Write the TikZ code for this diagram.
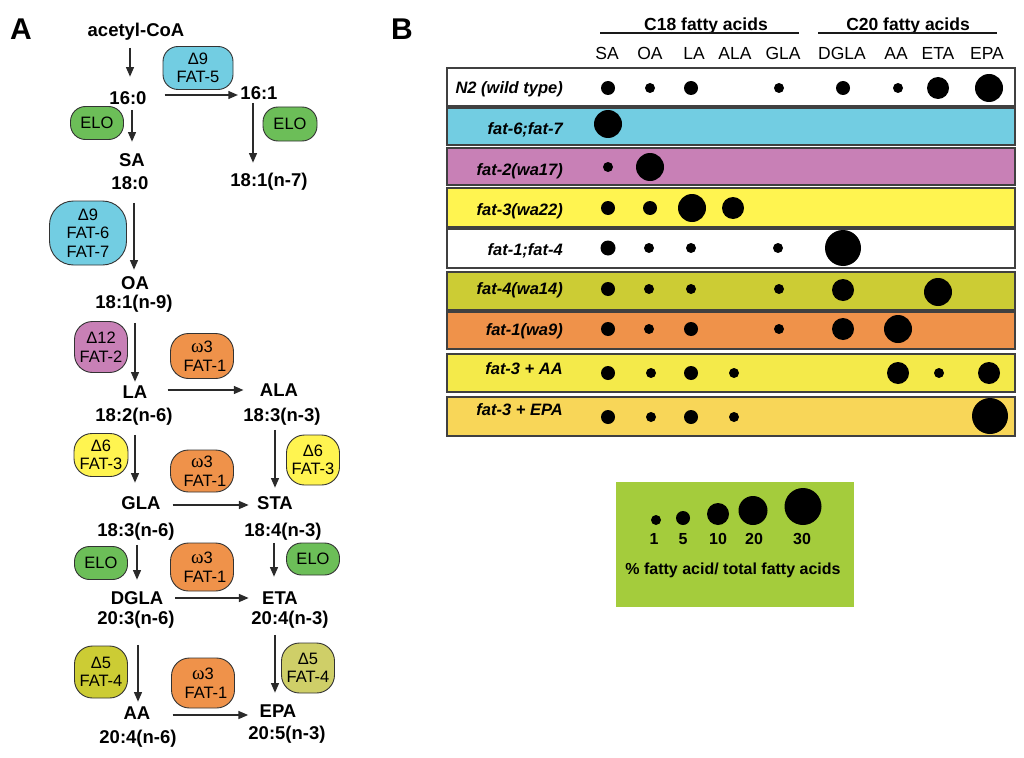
\documentclass[tikz,border=0pt]{standalone}
\usepackage{fontspec}
\setmainfont{Liberation Sans}
\newfontfamily\serifgr{Liberation Serif}
\usetikzlibrary{arrows.meta}
\definecolor{cyanE}{HTML}{72CDE2}
\definecolor{greenE}{HTML}{6CBE58}
\definecolor{purpleE}{HTML}{C880B6}
\definecolor{orangeE}{HTML}{EF924A}
\definecolor{yellowE}{HTML}{FFF450}
\definecolor{oliveE}{HTML}{CCCC34}
\definecolor{oliveL}{HTML}{CFCF68}
\definecolor{yellowR}{HTML}{F4EA4A}
\definecolor{goldR}{HTML}{F8D658}
\definecolor{legG}{HTML}{A4CC3C}
\definecolor{arrC}{HTML}{2A2A2A}
\newcommand{\om}{{\serifgr\fontsize{19}{18}\selectfont ω}}
\begin{document}
\begin{tikzpicture}[x=1pt,y=-1pt,
  lbl/.style={font=\fontsize{18.5}{22}\selectfont\bfseries, inner sep=0pt, text height=13.5pt, text depth=0pt},
  enz/.style={draw=black!80, line width=0.9pt, rounded corners=15pt, align=center, inner sep=0pt, font=\fontsize{16.5}{18.5}\selectfont},
  arr/.style={draw=arrC, line width=2.6pt, -{Triangle[length=10pt,width=7.5pt]}},
  panel/.style={font=\fontsize{30}{30}\selectfont\bfseries, inner sep=0pt, text height=21pt, text depth=0pt},
  hdr/.style={font=\fontsize{17.5}{20}\selectfont\bfseries, inner sep=0pt, text height=12.5pt, text depth=0pt},
  col/.style={font=\fontsize{17.5}{20}\selectfont, inner sep=0pt, text height=12.5pt, text depth=0pt},
  rowlbl/.style={font=\fontsize{16.5}{20}\selectfont\bfseries\itshape, inner sep=0pt, text height=12pt, text depth=0pt, anchor=east},
  rowbox/.style={draw=black!75, line width=1.4pt},
  hline/.style={line width=2pt, draw=black!90},
  leg/.style={font=\fontsize{16}{20}\selectfont\bfseries, inner sep=0pt, text height=11.5pt, text depth=0pt},
]
\useasboundingbox (0,0) rectangle (1024,757);
\fill[white] (0,0) rectangle (1024,757);

% ---------------- Panel A ----------------
\node[panel] (labA) at (21,29) {A};

\node[lbl] (acetyl) at (136,30) {acetyl-CoA};
\node[lbl] (n160) at (128,98) {16:0};
\node[lbl] (n161) at (259,93) {16:1};
\node[lbl] (SA) at (132,160) {SA};
\node[lbl] (f180) at (130,183) {18:0};
\node[lbl] (f181n7) at (269,180) {18:1(n-7)};
\node[lbl] (OA) at (135,283) {OA};
\node[lbl] (f181n9) at (134,302) {18:1(n-9)};
\node[lbl] (LA) at (135,392) {LA};
\node[lbl] (f182) at (134,415) {18:2(n-6)};
\node[lbl] (ALA) at (279,390) {ALA};
\node[lbl] (f183n3) at (282,415) {18:3(n-3)};
\node[lbl] (GLA) at (141,503) {GLA};
\node[lbl] (f183n6) at (136,530) {18:3(n-6)};
\node[lbl] (STA) at (275,503) {STA};
\node[lbl] (f184) at (283,530) {18:4(n-3)};
\node[lbl] (DGLA) at (137,598) {DGLA};
\node[lbl] (f203) at (136,618) {20:3(n-6)};
\node[lbl] (ETA) at (280,598) {ETA};
\node[lbl] (f204n3) at (290,618) {20:4(n-3)};
\node[lbl] (AA) at (137,713) {AA};
\node[lbl] (f204n6) at (138,737) {20:4(n-6)};
\node[lbl] (EPA) at (278,711) {EPA};
\node[lbl] (f205) at (287,733) {20:5(n-3)};

% enzymes
\node[enz, fill=cyanE, minimum width=70pt, minimum height=43pt] (fat5) at (198,68) {Δ9\\FAT-5};
\node[enz, fill=greenE, minimum width=53pt, minimum height=33pt] (elo1) at (97,123) {ELO};
\node[enz, fill=greenE, minimum width=54pt, minimum height=34pt] (elo2) at (290,124) {ELO};
\node[enz, fill=cyanE, minimum width=77pt, minimum height=64pt, rounded corners=24pt] (fat67) at (88,233) {Δ9\\FAT-6\\FAT-7};
\node[enz, fill=purpleE, minimum width=53pt, minimum height=51pt, rounded corners=18pt] (fat2) at (101,347) {Δ12\\FAT-2};
\node[enz, fill=orangeE, minimum width=63pt, minimum height=45pt, rounded corners=18pt] (fat1a) at (202,356) {\om3\\\hspace*{6pt}FAT-1};
\node[enz, fill=yellowE, minimum width=54pt, minimum height=43pt, rounded corners=18pt] (fat3a) at (101,455) {Δ6\\FAT-3};
\node[enz, fill=orangeE, minimum width=63pt, minimum height=42pt, rounded corners=18pt] (fat1b) at (202,471) {\om3\\\hspace*{6pt}FAT-1};
\node[enz, fill=yellowE, minimum width=53pt, minimum height=50pt, rounded corners=18pt] (fat3b) at (313,460) {Δ6\\FAT-3};
\node[enz, fill=greenE, minimum width=53pt, minimum height=33pt] (elo3) at (101,563) {ELO};
\node[enz, fill=orangeE, minimum width=63pt, minimum height=48pt, rounded corners=18pt] (fat1c) at (202,567) {\om3\\\hspace*{6pt}FAT-1};
\node[enz, fill=greenE, minimum width=53pt, minimum height=32pt] (elo4) at (313,559) {ELO};
\node[enz, fill=oliveE, minimum width=53pt, minimum height=52pt, rounded corners=18pt] (fat4a) at (101,672) {Δ5\\FAT-4};
\node[enz, fill=orangeE, minimum width=63pt, minimum height=50pt, rounded corners=18pt] (fat1d) at (203,683) {\om3\\\hspace*{6pt}FAT-1};
\node[enz, fill=oliveL, minimum width=53pt, minimum height=50pt, rounded corners=18pt] (fat4b) at (308,668) {Δ5\\FAT-4};

% vertical arrows
\draw[arr, shorten <=11pt, shorten >=14pt] ([xshift=-6pt]acetyl.south) -- ([xshift=-6pt]acetyl.south |- n160.north);
\draw[arr, shorten <=5pt, shorten >=11pt] ([xshift=4pt]n160.south) -- ([xshift=4pt]n160.south |- SA.north);
\draw[arr, shorten <=3pt, shorten >=10pt] ([xshift=-6pt]n161.south) -- ([xshift=-6pt]n161.south |- f181n7.north);
\draw[arr, shorten <=13pt, shorten >=6pt] ([xshift=4pt]f180.south) -- ([xshift=4pt]f180.south |- OA.north);
\draw[arr, shorten <=14pt, shorten >=3pt] ([xshift=1pt]f181n9.south) -- ([xshift=1pt]f181n9.south |- LA.north);
\draw[arr, shorten <=13pt, shorten >=13pt] ([xshift=1pt]f182.south) -- ([xshift=1pt]f182.south |- GLA.north);
\draw[arr, shorten <=8pt, shorten >=8pt] ([xshift=-7pt]f183n3.south) -- ([xshift=-7pt]f183n3.south |- STA.north);
\draw[arr, shorten <=8pt, shorten >=11pt] ([xshift=1pt]f183n6.south) -- ([xshift=1pt]f183n6.south |- DGLA.north);
\draw[arr, shorten <=6pt, shorten >=14pt] ([xshift=-9pt]f184.south) -- ([xshift=-9pt]f184.south |- ETA.north);
\draw[arr, shorten <=20pt, shorten >=4pt] ([xshift=2pt]f203.south) -- ([xshift=2pt]f203.south |- AA.north);
\draw[arr, shorten <=10pt, shorten >=11pt] ([xshift=-15pt]f204n3.south) -- ([xshift=-15pt]f204n3.south |- EPA.north);

% horizontal arrows
\draw[arr, shorten <=18pt, shorten >=2pt] ([yshift=3pt]n160.east) -- ([yshift=3pt]n160.east -| n161.west);
\draw[arr, shorten <=20pt, shorten >=16pt] ([yshift=2pt]LA.east) -- ([yshift=2pt]LA.east -| ALA.west);
\draw[arr, shorten <=12pt, shorten >=8pt] ([yshift=-2pt]GLA.east) -- ([yshift=-2pt]GLA.east -| STA.west);
\draw[arr, shorten <=12pt, shorten >=13pt] (DGLA.east) -- (DGLA.east -| ETA.west);
\draw[arr, shorten <=22pt, shorten >=11pt] ([yshift=-2pt]AA.east) -- ([yshift=-2pt]AA.east -| EPA.west);

% ---------------- Panel B ----------------
\node[panel] (labB) at (402,29) {B};
\node[hdr] (c18) at (706,24) {C18 fatty acids};
\node[hdr] (c20) at (908,24) {C20 fatty acids};
\draw[hline] (600,33) -- (799,33);
\draw[hline] (818,33) -- (997,33);

\node[col] (hSA) at (607,53) {SA};
\node[col] (hOA) at (650,53) {OA};
\node[col] (hLA) at (694,53) {LA};
\node[col] (hALA) at (735,53) {ALA};
\node[col] (hGLA) at (783,53) {GLA};
\node[col] (hDGLA) at (842,53) {DGLA};
\node[col] (hAA) at (896,53) {AA};
\node[col] (hETA) at (938,53) {ETA};
\node[col] (hEPA) at (987,53) {EPA};

% rows
\draw[rowbox, fill=white]   (447,68)  rectangle (1015,106);
\draw[rowbox, fill=cyanE]   (447,108) rectangle (1015,145);
\draw[rowbox, fill=purpleE] (447,148) rectangle (1015,185);
\draw[rowbox, fill=yellowE] (447,188) rectangle (1015,227);
\draw[rowbox, fill=white]   (447,229) rectangle (1015,268);
\draw[rowbox, fill=oliveE]  (447,272) rectangle (1015,310);
\draw[rowbox, fill=orangeE] (447,312) rectangle (1015,349);
\draw[rowbox, fill=yellowR] (447,354) rectangle (1015,392);
\draw[rowbox, fill=goldR]   (447,397) rectangle (1015,436);

\node[rowlbl] (r1) at (563,88)  {N2 (wild type)};
\node[rowlbl] (r2) at (563,128) {fat-6;fat-7};
\node[rowlbl] (r3) at (563,169) {fat-2(wa17)};
\node[rowlbl] (r4) at (563,209) {fat-3(wa22)};
\node[rowlbl] (r5) at (563,249) {fat-1;fat-4};
\node[rowlbl] (r6) at (563,288) {fat-4(wa14)};
\node[rowlbl] (r7) at (563,329) {fat-1(wa9)};
\node[rowlbl] (r8) at (563,368) {fat-3 + AA};
\node[rowlbl] (r9) at (563,409) {fat-3 + EPA};

% dots
\begin{scope}[black]
% N2
\fill (608,88) circle (7);  \fill (650,88) circle (5);  \fill (691,88) circle (7);
\fill (779,88) circle (5);  \fill (843,88) circle (7);  \fill (898,88) circle (5);
\fill (938,88) circle (11); \fill (989,88) circle (14);
% fat-6;fat-7
\fill (608,124) circle (14);
% fat-2
\fill (608,167) circle (5); \fill (650,167) circle (14);
% fat-3(wa22)
\fill (608,208) circle (7); \fill (650,208) circle (7); \fill (692,208) circle (14); \fill (733,208) circle (11);
% fat-1;fat-4
\fill (608,248) circle (7.5); \fill (649,248) circle (5); \fill (691,248) circle (5);
\fill (778,248) circle (5); \fill (843,248) circle (18);
% fat-4(wa14)
\fill (608,289) circle (7); \fill (649,289) circle (5); \fill (691,289) circle (5);
\fill (779,289) circle (5); \fill (843,290) circle (11); \fill (938,292) circle (14);
% fat-1(wa9)
\fill (608,329) circle (7); \fill (649,329) circle (5); \fill (691,329) circle (7);
\fill (779,329) circle (5); \fill (843,329) circle (11); \fill (898,329) circle (14);
% fat-3 + AA
\fill (608,373) circle (7); \fill (651,373) circle (5); \fill (691,373) circle (7);
\fill (734,373) circle (5); \fill (898,373) circle (11); \fill (939,373) circle (5); \fill (989,373) circle (11);
% fat-3 + EPA
\fill (608,417) circle (7); \fill (651,417) circle (5); \fill (691,417) circle (7);
\fill (734,417) circle (5); \fill (990,416) circle (18);
\end{scope}

% legend
\fill[legG] (616,482) rectangle (854,607);
\fill (656,520) circle (5);
\fill (683,518) circle (7);
\fill (718,514) circle (11);
\fill (753,510.5) circle (14.5);
\fill (803,506.5) circle (18.5);
\node[leg] (l1) at (654,539) {1};
\node[leg] (l5) at (683,539) {5};
\node[leg] (l10) at (718,539) {10};
\node[leg] (l20) at (754,539) {20};
\node[leg] (l30) at (802,539) {30};
\node[leg] (lcap) at (733,569) {\% fatty acid/ total fatty acids};
\end{tikzpicture}
\end{document}
